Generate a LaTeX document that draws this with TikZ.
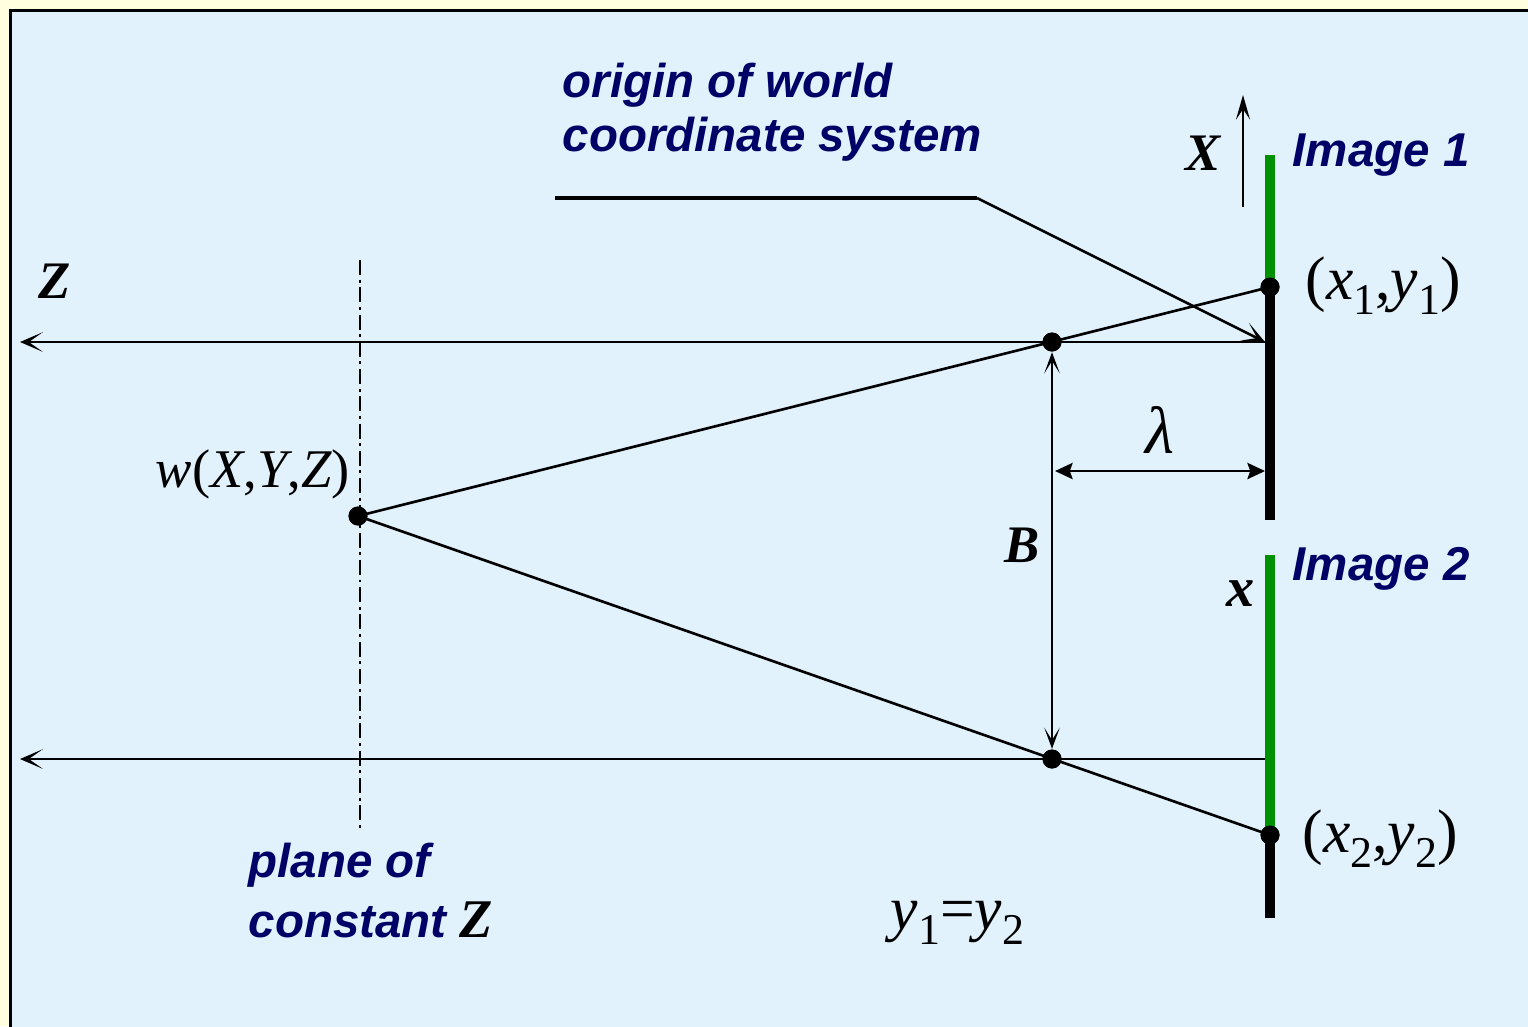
\documentclass[tikz,border=0pt]{standalone}
\usepackage{fontspec}
\setmainfont{Liberation Serif}
\newfontfamily\headfont{Liberation Sans}
\usepackage{xcolor}
\usetikzlibrary{arrows.meta,positioning}
\definecolor{cNavy}{HTML}{000066}
\definecolor{cGreen}{HTML}{009100}
\definecolor{cSky}{HTML}{E1F2FD}
\definecolor{cCream}{HTML}{FFFFE0}
\newcommand\lowsub[1]{\raisebox{-4.4pt}{\fontsize{12.5}{12.5}\selectfont #1}}
\tikzset{
  axis/.style={line width=0.6pt,-{Stealth[length=6.5pt,width=5.6pt,inset=4pt]}},
  ray/.style={line width=0.75pt},
  barr/.style={line width=0.6pt,{Stealth[length=6pt,width=4.4pt,inset=3.5pt]}-{Stealth[length=6pt,width=4.4pt,inset=3.5pt]}},
  larr/.style={line width=0.75pt,{Stealth[length=5pt,width=4.6pt,inset=0.8pt]}-{Stealth[length=5pt,width=4.6pt,inset=0.8pt]}},
  dot/.style={circle,fill=black,inner sep=0pt,minimum size=5.4pt},
  plate/.style={line width=2.9pt},
  tag/.style={font=\headfont\bfseries\itshape\fontsize{13.5}{15.6}\selectfont,text=cNavy,align=left,inner sep=0pt},
  sym/.style={font=\fontsize{17.5}{20}\selectfont,inner sep=0pt},
  bsym/.style={font=\bfseries\itshape\fontsize{15}{18}\selectfont,inner sep=0pt},
}

\begin{document}
\begin{tikzpicture}[x=0.01cm,y=-0.01cm]
  \useasboundingbox (0,0) rectangle (1528,1026);
  \fill[cCream] (0,0) rectangle (1528,1026);
  \clip (0,0) rectangle (1528,1026);
  \draw[line width=0.9pt,fill=cSky] (10.5,10.5) rectangle (1560,1060);

  \coordinate (o1) at (1265,342); \coordinate (z1) at (20,342);
  \coordinate (o2) at (1265,759); \coordinate (z2) at (20,759);
  \coordinate (t1) at (1270,155); \coordinate (b1) at (1270,520);
  \coordinate (t2) at (1270,555); \coordinate (b2) at (1270,918);
  \coordinate (pl0) at (360,260); \coordinate (pl1) at (360,828);
  \coordinate (xa0) at (1243,207); \coordinate (xa1) at (1243,95);
  \coordinate (lead0) at (555,198); \coordinate (lead1) at (977,198);
  \coordinate (l1) at (1055,471); \coordinate (l2) at (1265,471);

  \node[dot] (w) at (358,516) {};
  \node[dot] (p1) at (1270,287) {};
  \node[dot] (p2) at (1270,835) {};
  \node[dot] (c1) at (1052,342) {};
  \node[dot] (c2) at (1052,759) {};

  \draw[axis] (o1) -- (z1);
  \draw[axis] (o2) -- (z2);
  \draw[axis,-{Stealth[length=7pt,width=4pt,inset=3pt]}] (xa0) -- (xa1);
  \draw[line width=0.6pt,dash pattern=on 4.3pt off 1.3pt on 0.85pt off 1.3pt] (pl0) -- (pl1);
  \draw[ray] (w.center) -- (p1.center);
  \draw[ray] (w.center) -- (p2.center);
  \draw[line width=1.1pt] (lead0) -- (lead1);
  \draw[ray,-{Stealth[length=6.5pt,width=5.6pt,inset=4pt]}] (lead1) -- (o1);
  \draw[barr] (c1) -- (c2);
  \draw[larr] (l1) -- (l2);

  \draw[plate,cGreen] (t1) -- (p1.center);
  \draw[plate] (p1.center) -- (b1);
  \draw[plate,cGreen] (t2) -- (p2.center);
  \draw[plate] (p2.center) -- (b2);
  \node[dot] at (p1) {};
  \node[dot] at (p2) {};
  \node[dot] at (w) {};
  \node[dot] at (c1) {};
  \node[dot] at (c2) {};

  \node[tag,anchor=north west] (origin) at (562,62) {origin of world\\coordinate system};
  \node[tag,anchor=base west] (img1) at (1292,166) {Image 1};
  \node[tag,anchor=base west] (img2) at (1292,580) {Image 2};
  \node[tag,anchor=north west,font=\headfont\bfseries\itshape\fontsize{13.5}{17.3}\selectfont] (plane) at (248,842)
    {plane of\\constant {\rmfamily\color{black}\fontsize{15.5}{17}\selectfont Z}};
  \node[bsym,anchor=base west] (zlab) at (38,298) {Z};
  \node[bsym,anchor=base] (xlab) at (1203,170) {X};
  \node[bsym,anchor=base] (blab) at (1022,562) {B};
  \node[bsym,anchor=base,font=\bfseries\itshape\fontsize{16}{18}\selectfont] (xs) at (1241,606) {x};
  \node[sym,anchor=base,font=\fontsize{19}{22}\selectfont] (lam) at (1160,453) {\textit{λ}};
  \node[sym,anchor=base west] (q1) at (1305,299) {(\textit{x}\lowsub{1},\textit{y}\lowsub{1})};
  \node[sym,anchor=base west] (q2) at (1302,852) {(\textit{x}\lowsub{2},\textit{y}\lowsub{2})};
  \node[sym,anchor=base west,font=\fontsize{15.5}{19}\selectfont] (wlab) at (155,487) {\textit{w}(\textit{X},\textit{Y},\textit{Z})};
  \node[sym,anchor=base west] (eq) at (890,929) {\textit{y}\lowsub{1}=\textit{y}\lowsub{2}};
\end{tikzpicture}
\end{document}
